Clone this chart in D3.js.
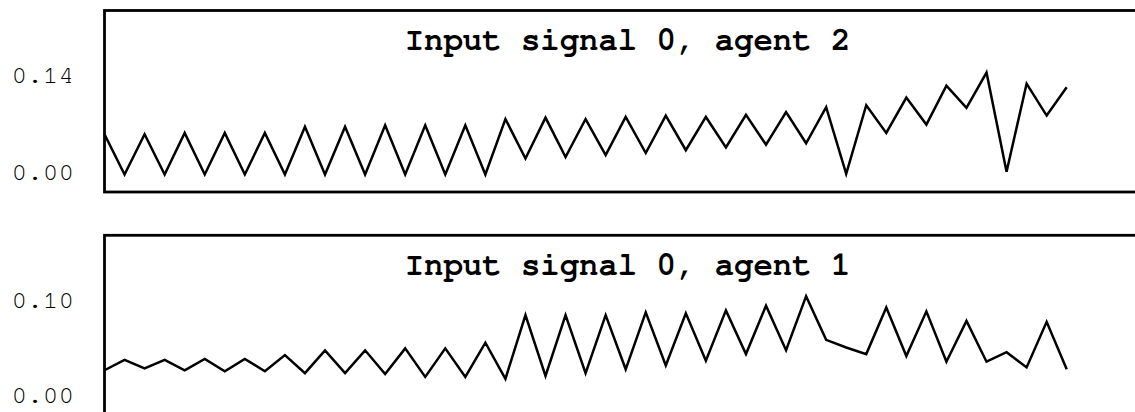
<!DOCTYPE html>
<html>
<head>
<meta charset="utf-8">
<script src="https://cdn.jsdelivr.net/npm/d3@7"></script>
<style>
  html, body { margin: 0; padding: 0; background: #fff; overflow: hidden; }
  svg { display: block; }
</style>
</head>
<body>
<svg id="chart" width="1135" height="412"></svg>
<script>
// Input signal 0 recorded for each agent, one sample per step.
const agent2Signal = [
  0.053, -0.005, 0.053, -0.005, 0.055, -0.005, 0.055, -0.005, 0.055, -0.005,
  0.064, -0.005, 0.064, -0.005, 0.066, -0.005, 0.066, -0.005, 0.066, -0.005,
  0.075, 0.018, 0.077, 0.020, 0.075, 0.023, 0.078, 0.026, 0.080, 0.030,
  0.078, 0.034, 0.081, 0.038, 0.085, 0.040, 0.092, -0.004, 0.095, 0.055,
  0.106, 0.067, 0.123, 0.091, 0.142, -0.001, 0.126, 0.080, 0.121
];
const agent1Signal = [
  0.025, 0.036, 0.027, 0.036, 0.025, 0.037, 0.024, 0.037, 0.024, 0.041,
  0.022, 0.046, 0.022, 0.046, 0.021, 0.048, 0.018, 0.048, 0.018, 0.054,
  0.016, 0.083, 0.019, 0.083, 0.022, 0.083, 0.026, 0.086, 0.030, 0.085,
  0.035, 0.088, 0.042, 0.093, 0.046, 0.103, 0.057, 0.049, 0.042, 0.091,
  0.040, 0.087, 0.034, 0.077, 0.034, 0.044, 0.028, 0.076, 0.026
];
const agent2Ticks = [0, 0.14];
const agent1Ticks = [0, 0.10];
const panelTitles = ["Input signal 0, agent 2", "Input signal 0, agent 1"];

const monoFont = "'Nimbus Mono PS', 'Nimbus Mono L', FreeMono, Courier, 'Courier New', 'Liberation Mono', monospace";

const svg = d3.select("#chart");
const panelLeft = 104.5;
const panelWidth = 1046;
const panelHeight = 181.5;

const x = d3.scaleLinear()
  .domain([0, agent2Signal.length - 1])
  .range([panelLeft, panelLeft + 962.2]);

const panels = [
  { title: panelTitles[0], values: agent2Signal, ticks: agent2Ticks,
    top: 10.5, y: d3.scaleLinear().domain([0, 0.14]).range([171, 74]) },
  { title: panelTitles[1], values: agent1Signal, ticks: agent1Ticks,
    top: 235.3, y: d3.scaleLinear().domain([0, 0.10]).range([394, 299]) }
];

panels.forEach(p => {
  const g = svg.append("g");

  // frame
  g.append("rect")
    .attr("x", panelLeft)
    .attr("y", p.top)
    .attr("width", panelWidth)
    .attr("height", panelHeight)
    .attr("fill", "none")
    .attr("stroke", "#000")
    .attr("stroke-width", 2.8);

  // title
  g.append("text")
    .attr("x", panelLeft + panelWidth / 2)
    .attr("y", p.top + 39.5)
    .attr("text-anchor", "middle")
    .attr("font-family", monoFont)
    .attr("font-weight", "bold")
    .attr("font-size", 32.3)
    .attr("fill", "#000")
    .text(p.title);

  // y axis labels only
  const axis = d3.axisLeft(p.y)
    .tickValues(p.ticks)
    .tickFormat(d3.format(".2f"))
    .tickSize(0)
    .tickPadding(30.5);
  const ag = g.append("g")
    .attr("transform", `translate(${panelLeft},0)`)
    .call(axis);
  ag.select(".domain").remove();
  ag.selectAll("text")
    .attr("font-family", monoFont)
    .attr("font-size", 26)
    .attr("fill", "#000");

  // signal trace
  const line = d3.line()
    .x((d, i) => x(i))
    .y(d => p.y(d));
  g.append("path")
    .datum(p.values)
    .attr("d", line)
    .attr("fill", "none")
    .attr("stroke", "#000")
    .attr("stroke-width", 2.5)
    .attr("stroke-linejoin", "miter");
});
</script>
</body>
</html>
